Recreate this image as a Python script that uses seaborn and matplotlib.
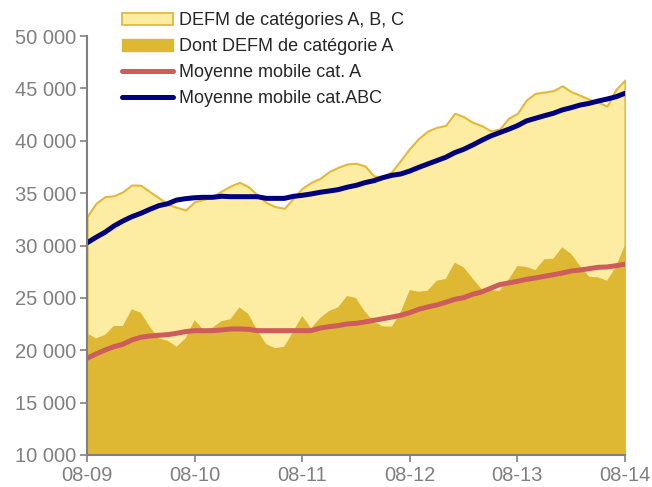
import matplotlib
matplotlib.use("Agg")
import matplotlib.pyplot as plt
import matplotlib.ticker as mticker
from matplotlib.patches import Patch
from matplotlib.lines import Line2D
import numpy as np
import pandas as pd
import seaborn as sns

# ---- data (monthly, Aug 2009 .. Aug 2014) ----
defm_abc = [32750, 34030, 34660, 34750, 35140, 35780, 35750, 35140, 34560, 33930,
            33650, 33390, 34180, 34400, 34660, 35200, 35680, 36030, 35610, 34820,
            34090, 33710, 33550, 34500, 35460, 36030, 36410, 37050, 37460, 37780,
            37850, 37590, 36630, 36570, 37050, 38160, 39280, 40230, 40930, 41280,
            41470, 42620, 42300, 41760, 41450, 40960, 41100, 42140, 42620, 43890,
            44530, 44650, 44780, 45250, 44680, 44340, 43960, 43670, 43320, 44910,
            45800]
defm_a = [21620, 21140, 21460, 22320, 22320, 23910, 23590, 22250, 21140, 20910,
          20340, 21140, 22890, 21930, 22150, 22780, 22960, 24100, 23460, 21870,
          20570, 20190, 20340, 21780, 23270, 22090, 23080, 23750, 24100, 25180,
          24990, 23680, 22730, 22280, 22250, 23680, 25750, 25590, 25690, 26640,
          26800, 28360, 27920, 26860, 25850, 25750, 25660, 26710, 28040, 27950,
          27660, 28680, 28740, 29830, 29190, 28040, 27020, 26960, 26640, 27980,
          30050]
mm_a = [19230, 19640, 20020, 20340, 20570, 20980, 21240, 21360, 21430, 21490,
        21620, 21780, 21870, 21870, 21870, 21930, 22030, 22030, 22000, 21870,
        21870, 21870, 21870, 21870, 21870, 21870, 22120, 22250, 22350, 22510,
        22570, 22700, 22860, 23010, 23170, 23340, 23590, 23910, 24130, 24320,
        24580, 24860, 25020, 25340, 25560, 25910, 26260, 26420, 26580, 26770,
        26900, 27060, 27210, 27370, 27570, 27660, 27790, 27920, 27950, 28070,
        28210]
mm_abc = [30250, 30780, 31260, 31860, 32340, 32750, 33070, 33450, 33800, 33990,
          34340, 34470, 34560, 34600, 34600, 34700, 34660, 34660, 34660, 34660,
          34500, 34500, 34500, 34690, 34790, 34920, 35080, 35200, 35330, 35560,
          35740, 36000, 36190, 36480, 36700, 36830, 37110, 37460, 37780, 38100,
          38420, 38860, 39180, 39590, 40030, 40450, 40770, 41090, 41440, 41890,
          42140, 42390, 42620, 42940, 43160, 43410, 43570, 43790, 43980, 44200,
          44530]
tick_labels = ["08-09", "08-10", "08-11", "08-12", "08-13", "08-14"]
legend_labels = ["DEFM de catégories A, B, C", "Dont DEFM de catégorie A",
                 "Moyenne mobile cat. A", "Moyenne mobile cat.ABC"]

months = np.arange(len(defm_abc))
df = pd.DataFrame({"m": months, "abc": defm_abc, "a": defm_a,
                   "mma": mm_a, "mmabc": mm_abc})

# ---- style ----
sns.set_theme(style="white")
plt.rcParams["font.family"] = ["Liberation Sans", "DejaVu Sans"]

c_light = "#FDEDA3"
c_edge = "#E2B93B"
c_dark = "#DFB833"
c_red = "#CD5C5C"
c_navy = "#00007F"
c_grey = "#808080"

fig = plt.figure(figsize=(6.52, 4.87), dpi=100)
ax = fig.add_axes([87 / 652, 1 - 455 / 487, (625 - 87) / 652, (455 - 36) / 487])

ymin, ymax = 10000, 50000
ax.fill_between(df["m"], ymin, df["abc"], facecolor=c_light, edgecolor=c_edge,
                linewidth=1.5, zorder=1)
ax.fill_between(df["m"], ymin, df["a"], facecolor=c_dark, edgecolor="none",
                linewidth=0, zorder=2)
sns.lineplot(data=df, x="m", y="mma", ax=ax, color=c_red, linewidth=3.6,
             zorder=3, legend=False)
sns.lineplot(data=df, x="m", y="mmabc", ax=ax, color=c_navy, linewidth=3.6,
             zorder=4, legend=False)

ax.set_xlim(0, len(defm_abc) - 1)
ax.set_ylim(ymin, ymax)
ax.set_xticks(np.arange(0, len(defm_abc), 12))
ax.set_xticklabels(tick_labels)
ax.set_yticks(np.arange(ymin, ymax + 1, 5000))
ax.yaxis.set_major_formatter(
    mticker.FuncFormatter(lambda v, p: f"{int(v):,}".replace(",", " ")))
ax.set_xlabel("")
ax.set_ylabel("")

for s in ["top", "right"]:
    ax.spines[s].set_visible(False)
for s in ["left", "bottom"]:
    ax.spines[s].set_color(c_grey)
    ax.spines[s].set_linewidth(1.5)
    ax.spines[s].set_zorder(5)
ax.tick_params(axis="both", which="major", direction="out", length=5,
               width=1.2, color=c_grey, labelcolor=c_grey, labelsize=14.5,
               left=True, bottom=True, pad=3)
ax.set_facecolor("white")

handles = [Patch(facecolor=c_light, edgecolor=c_edge, linewidth=1.3),
           Patch(facecolor=c_dark, edgecolor=c_dark),
           Line2D([0], [0], color=c_red, linewidth=3.6),
           Line2D([0], [0], color=c_navy, linewidth=3.6)]
fig.legend(handles, legend_labels, loc="upper left",
           bbox_to_anchor=(115 / 652, 1 - 5 / 487), frameon=False,
           fontsize=13, handlelength=2.8, handleheight=0.6,
           handletextpad=0.35, labelspacing=0.5, borderaxespad=0)

fig.savefig("out.png", dpi=100)
